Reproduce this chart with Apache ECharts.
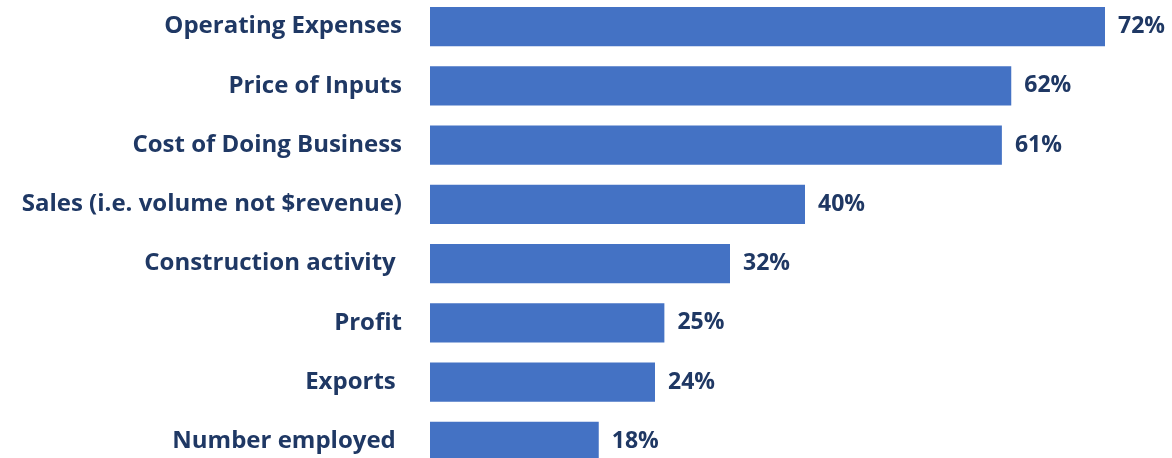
<!DOCTYPE html>
<html>
<head>
<meta charset="utf-8">
<script src="https://cdn.jsdelivr.net/npm/echarts@6/dist/echarts.min.js"></script>
<style>
  html, body { margin: 0; padding: 0; background: #ffffff; }
  #chart { width: 1172px; height: 458px; }
</style>
</head>
<body>
<div id="chart"></div>
<script>
// Share of respondents reporting an increase, by business indicator
const categories = [
  'Operating Expenses',
  'Price of Inputs',
  'Cost of Doing Business',
  'Sales (i.e. volume not $revenue)',
  'Construction activity ',
  'Profit',
  'Exports ',
  'Number employed '
];
const values = [72, 62, 61, 40, 32, 25, 24, 18];

const textColor = '#1f3864';
const barColor = '#4472c4';
const fontFamily = '"Open Sans", sans-serif';

const chart = echarts.init(document.getElementById('chart'));
chart.setOption({
  animation: false,
  grid: {
    left: 430, right: 67, top: -3, bottom: -13,
    outerBoundsMode: 'none',
    containLabel: false
  },
  xAxis: {
    type: 'value',
    min: 0,
    max: 72,
    show: false
  },
  yAxis: {
    type: 'category',
    inverse: true,
    data: categories,
    axisLine: { show: false },
    axisTick: { show: false },
    splitLine: { show: false },
    axisLabel: {
      margin: 28,
      color: textColor,
      fontFamily: fontFamily,
      fontWeight: 'bold',
      fontSize: 24
    }
  },
  series: [{
    type: 'bar',
    data: values,
    barCategoryGap: '34%',
    itemStyle: { color: barColor },
    label: {
      show: true,
      position: 'right',
      distance: 13,
      formatter: p => p.value + '%',
      color: textColor,
      fontFamily: fontFamily,
      fontWeight: 'bold',
      fontSize: 23
    }
  }]
});
</script>
</body>
</html>
